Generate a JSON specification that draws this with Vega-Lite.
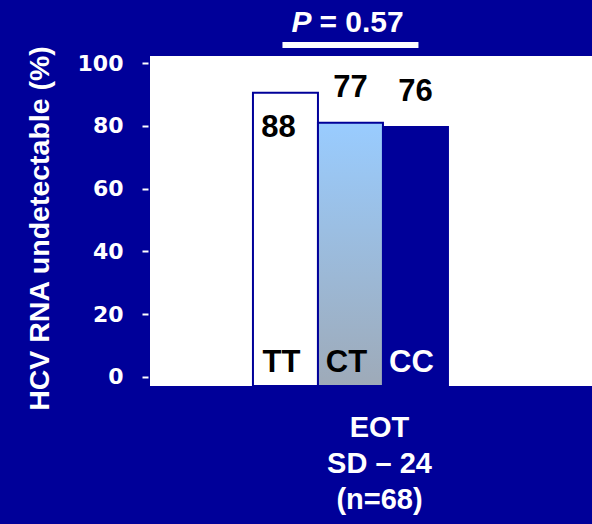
{
  "$schema": "https://vega.github.io/schema/vega-lite/v6.json",
  "width": 442,
  "height": 330,
  "autosize": {"type": "none"},
  "padding": {"left": 150, "top": 56, "right": 0, "bottom": 138},
  "background": "#000099",
  "config": {"view": {"fill": "white", "stroke": null}},
  "data": {"values": [
    {"g": "TT", "pct": 88, "h": 90.5},
    {"g": "CT", "pct": 77, "h": 81},
    {"g": "CC", "pct": 76, "h": 79.6}
  ]},
  "layer": [
    {
      "mark": {"type": "bar", "stroke": "#000099", "strokeWidth": 2},
      "encoding": {
        "x": {"field": "g", "type": "nominal",
          "scale": {"domain": ["_a", "TT", "CT", "CC", "_b", "_c"], "paddingInner": 0, "paddingOuter": 0.4, "align": 0.73},
          "axis": {"title": ["EOT", "SD – 24", "(n=68)"], "labels": false, "ticks": false, "domain": false,
            "titleFont": "Liberation Sans", "titleFontSize": 29, "titleFontWeight": "bold", "titleColor": "white",
            "titleLineHeight": 36, "titlePadding": 27, "titleX": 229}},
        "y": {"field": "h", "type": "quantitative",
          "scale": {"domain": [-2.87, 102.23], "nice": false, "zero": false},
          "axis": {"values": [0, 20, 40, 60, 80, 100], "title": "HCV RNA undetectable (%)", "grid": false,
            "domain": false, "tickColor": "white", "tickSize": 6, "tickWidth": 2, "offset": 2,
            "labelColor": "white", "labelFont": "DejaVu Sans", "labelFontSize": 22, "labelFontWeight": "bold", "labelPadding": 19,
            "titleColor": "white", "titleFont": "Liberation Sans", "titleFontSize": 28.5, "titleFontWeight": "bold",
            "titleAngle": -90, "titleX": -100, "titleY": 172, "titleAlign": "center", "titleBaseline": "alphabetic"}},
        "y2": {"datum": -2.87},
        "fill": {
          "condition": [
            {"test": "datum.g === 'CT'", "value": {"gradient": "linear", "x1": 0, "y1": 0, "x2": 0, "y2": 1,
              "stops": [{"offset": 0, "color": "#99ccff"}, {"offset": 1, "color": "#9eaab8"}]}},
            {"test": "datum.g === 'CC'", "value": "#000099"}
          ],
          "value": "white"
        }
      }
    },
    {
      "transform": [{"filter": "datum.g === 'TT'"}],
      "mark": {"type": "text", "font": "Liberation Sans", "fontWeight": "bold", "fontSize": 31, "baseline": "alphabetic", "dy": 44, "dx": -7, "color": "black"},
      "encoding": {
        "x": {"field": "g", "type": "nominal"},
        "y": {"field": "h", "type": "quantitative"},
        "text": {"field": "pct"}
      }
    },
    {
      "transform": [{"filter": "datum.g !== 'TT'"}],
      "mark": {"type": "text", "font": "Liberation Sans", "fontWeight": "bold", "fontSize": 31, "baseline": "alphabetic", "dy": -26, "color": "black"},
      "encoding": {
        "x": {"field": "g", "type": "nominal"},
        "y": {"field": "h", "type": "quantitative"},
        "text": {"field": "pct"}
      }
    },
    {
      "mark": {"type": "text", "font": "Liberation Sans", "fontWeight": "bold", "fontSize": 31, "baseline": "alphabetic", "dy": -5, "dx": -4},
      "encoding": {
        "x": {"field": "g", "type": "nominal"},
        "y": {"datum": 0},
        "text": {"field": "g"},
        "color": {"condition": {"test": "datum.g === 'CC'", "value": "white"}, "value": "black"}
      }
    },
    {
      "data": {"values": [{"t": "P"}]},
      "mark": {"type": "text", "font": "Liberation Sans", "fontWeight": "bold", "fontStyle": "italic", "fontSize": 30, "baseline": "alphabetic", "align": "right", "dx": -39, "color": "white"},
      "encoding": {
        "x": {"datum": "CT"},
        "y": {"datum": 109.9},
        "text": {"field": "t"}
      }
    },
    {
      "data": {"values": [{"t": "= 0.57"}]},
      "mark": {"type": "text", "font": "Liberation Sans", "fontWeight": "bold", "fontSize": 30, "baseline": "alphabetic", "align": "left", "dx": -31, "color": "white"},
      "encoding": {
        "x": {"datum": "CT"},
        "y": {"datum": 109.9},
        "text": {"field": "t"}
      }
    },
    {
      "data": {"values": [{"a": "TT", "b": "CC"}]},
      "mark": {"type": "rule", "color": "white", "strokeWidth": 6, "strokeCap": "square"},
      "encoding": {
        "x": {"field": "a", "type": "nominal"},
        "x2": {"field": "b"},
        "y": {"datum": 105.7}
      }
    }
  ]
}
